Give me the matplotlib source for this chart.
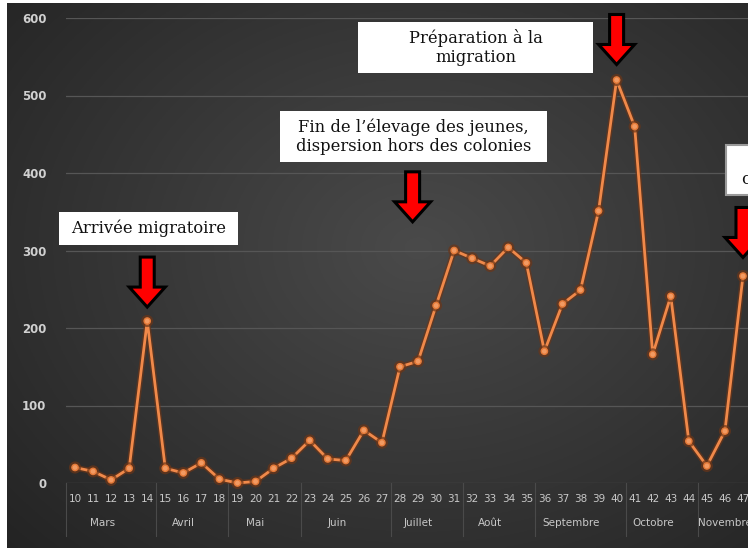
import numpy as np
import matplotlib
matplotlib.use("Agg")
import matplotlib.pyplot as plt
import matplotlib.transforms as mtransforms
import matplotlib.patheffects as pe
from matplotlib.patches import Polygon, Rectangle

# weekly counts
weeks = list(range(10, 48))
counts = [20, 15, 4, 19, 209, 19, 13, 26, 5, 0, 2, 19, 32, 55, 31, 29, 68, 52,
          150, 157, 229, 300, 290, 280, 304, 284, 170, 231, 249, 351, 520, 460,
          166, 241, 54, 22, 67, 267]

months = ["Mars", "Avril", "Mai", "Juin", "Juillet", "Août", "Septembre", "Octobre", "Novembre"]
month_start = [10, 15, 19, 23, 28, 32, 36, 41, 45]
month_end = [14, 18, 22, 27, 31, 35, 40, 44, 48]

# annotations: text, box (x0, x1, y0, y1) in chart units, arrow tips (week, value)
notes = ["Arrivée migratoire",
         "Fin de l\u2019élevage des jeunes,\ndispersion hors des colonies",
         "Préparation à la\nmigration",
         "Retour aux\ncolonies d\u2019hiver"]
note_box = [(9.11, 19.03, 307, 350), (21.36, 36.15, 414, 480),
            (25.68, 38.7, 529, 595), (46.07, 55.0, 372, 436)]
note_center = [None, None, None, 50.6]
arrow_tips = [(14, 227), (28.7, 337), (40, 540), (47, 291)]

W, H = 748, 548
fig = plt.figure(figsize=(W / 100, H / 100), dpi=100, facecolor="white")

# dark radial background
bg = fig.add_axes([7 / W, 0, 1, (H - 3) / H], zorder=0)
yy, xx = np.mgrid[0:1:300j, 0:1:400j]
r = np.sqrt(((xx - 0.55) / 0.75) ** 2 + ((yy - 0.45) / 0.8) ** 2)
shade = np.clip(0.29 - 0.15 * r, 0.13, 0.3)
bg.imshow(np.dstack([shade, shade, shade]), aspect="auto", extent=[0, 1, 0, 1])
bg.axis("off")

ax = fig.add_axes([66 / W, (H - 483) / H, (752 - 66) / W, 465 / H], zorder=1)
ax.patch.set_alpha(0)
ax.set_xlim(9.5, 47.5)
ax.set_ylim(0, 600)

for s in ax.spines.values():
    s.set_visible(False)
ax.set_yticks(range(0, 601, 100))
ax.yaxis.grid(True, color="#565656", linewidth=0.9)
ax.set_axisbelow(True)
ax.tick_params(axis="y", length=0, pad=14, labelcolor="#d0d0d0", labelsize=8.5)
for lab in ax.get_yticklabels():
    lab.set_fontweight("bold")

ax.set_xticks(weeks)
ax.set_xticklabels([str(w) for w in weeks])
ax.tick_params(axis="x", length=0, pad=8, labelcolor="#c8c8c8", labelsize=7.5)

trans = mtransforms.blended_transform_factory(ax.transData, ax.transAxes)
for m, a, b in zip(months, month_start, month_end):
    ax.text((a + b - 1) / 2, -0.085, m, transform=trans, ha="center", va="center",
            color="#c8c8c8", fontsize=7.5)
    ax.plot([a - 0.5, a - 0.5], [0, -0.115], transform=trans, color="#4a4a4a",
            linewidth=0.8, clip_on=False)

ax.plot(weeks, counts, color="#f0894a", linewidth=2.0, marker="o", markersize=4.5,
        markerfacecolor="#f29a62", markeredgecolor="#e57a38", clip_on=False, zorder=3,
        path_effects=[pe.withStroke(linewidth=4.2, foreground="#6b3518", alpha=0.7)])

for i, (t, (x0, x1, y0, y1)) in enumerate(zip(notes, note_box)):
    edge = "#9a9a9a" if i == 3 else "none"
    ax.add_patch(Rectangle((x0, y0), x1 - x0, y1 - y0, facecolor="white", edgecolor=edge,
                           linewidth=1.5, clip_on=False, zorder=5))
    cx = note_center[i] if note_center[i] is not None else (x0 + x1) / 2
    ax.text(cx, (y0 + y1) / 2, t, ha="center", va="center", fontsize=11.8,
            family="DejaVu Serif", color="#111111", linespacing=1.2, zorder=6,
            clip_on=False)

# red down arrows, shape in inches relative to tip
shape = np.array([[0, 0], [-0.18, 0.2], [-0.07, 0.2], [-0.07, 0.5],
                  [0.07, 0.5], [0.07, 0.2], [0.18, 0.2]])
for x, y in arrow_tips:
    tr = fig.dpi_scale_trans + mtransforms.ScaledTranslation(x, y, ax.transData)
    ax.add_patch(Polygon(shape, closed=True, transform=tr, facecolor="#ff0000",
                         edgecolor="black", linewidth=2.2, joinstyle="miter",
                         clip_on=False, zorder=7))

fig.savefig("out.png", dpi=100, facecolor=fig.get_facecolor())
